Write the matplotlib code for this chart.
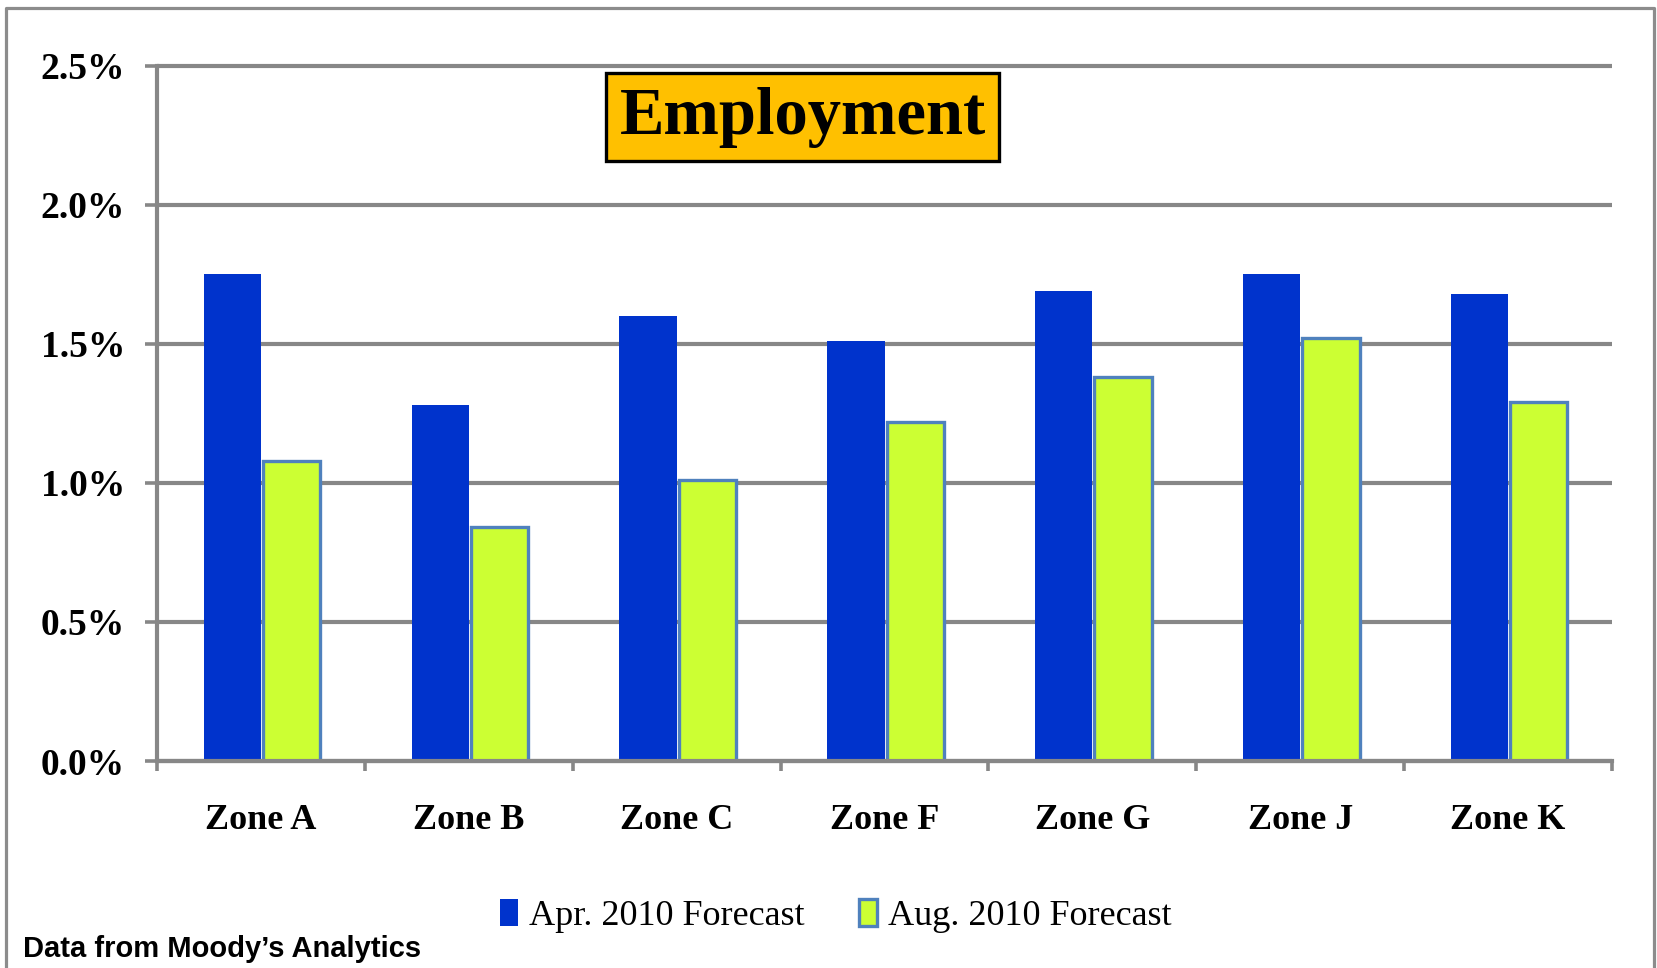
import matplotlib
matplotlib.use('Agg')
import matplotlib.pyplot as plt
import numpy as np
from matplotlib.patches import Patch
from matplotlib.lines import Line2D

# data (percent)
zones = ['Zone A', 'Zone B', 'Zone C', 'Zone F', 'Zone G', 'Zone J', 'Zone K']
apr_2010 = [1.75, 1.28, 1.60, 1.51, 1.69, 1.75, 1.68]
aug_2010 = [1.08, 0.84, 1.01, 1.22, 1.38, 1.52, 1.29]
series_names = ['Apr. 2010 Forecast', 'Aug. 2010 Forecast']
y_ticks = [0.0, 0.5, 1.0, 1.5, 2.0, 2.5]

BLUE = '#0033cc'
GREEN = '#ccff33'
EDGE = '#4f81bd'
GRAY = '#878787'
SERIF = 'Liberation Serif'

fig = plt.figure(figsize=(16.57, 9.68), dpi=100)
ax = fig.add_axes([0.0947, 0.2138, 0.9729 - 0.0947, 0.9321 - 0.2138])

x = np.arange(len(zones))
w = 0.275
ax.bar(x - w / 2, apr_2010, w, color=BLUE, edgecolor='none', zorder=3)
ax.bar(x + w / 2 + 0.01, aug_2010, w, color=GREEN, edgecolor=EDGE, linewidth=2.4, zorder=3)

ax.set_xlim(-0.5, len(zones) - 0.5)
ax.set_ylim(0, 2.5)

ax.set_yticks(y_ticks)
ax.set_yticklabels(['%.1f%%' % v for v in y_ticks], fontfamily=SERIF, fontweight='bold', fontsize=27)
ax.yaxis.grid(True, color=GRAY, linewidth=3.0, zorder=0)
# keep the top (2.5%) gridline at full thickness
for gl in ax.get_ygridlines():
    gl.set_clip_on(False)
    gl.set_solid_capstyle('butt')
ax.tick_params(axis='y', direction='out', length=9, width=2.6, color=GRAY, pad=14)

ax.set_xticks(x)
ax.set_xticklabels(zones, fontfamily=SERIF, fontweight='bold', fontsize=26)
ax.set_xticks(np.arange(-0.5, len(zones), 1.0), minor=True)
ax.tick_params(axis='x', which='major', length=0, pad=31)
ax.tick_params(axis='x', which='minor', direction='out', length=7, width=2.6, color=GRAY)

for s in ['top', 'right']:
    ax.spines[s].set_visible(False)
for s in ['left', 'bottom']:
    ax.spines[s].set_color(GRAY)
    ax.spines[s].set_linewidth(3.0)
    ax.spines[s].set_zorder(4)

# title box
ax.text(0.4845, 0.879, 'Employment', transform=fig.transFigure, ha='center', va='center',
        fontfamily=SERIF, fontweight='bold', fontsize=48,
        bbox=dict(boxstyle='square,pad=0.2', facecolor='#ffc000', edgecolor='black', linewidth=2.4))

# legend
handles = [Patch(facecolor=BLUE, edgecolor='none'),
           Patch(facecolor=GREEN, edgecolor=EDGE, linewidth=2.4)]
fig.legend(handles, series_names, loc='center', bbox_to_anchor=(0.5045, 0.0537), ncol=2,
           frameon=False, prop={'family': SERIF, 'size': 26},
           handlelength=0.5, handleheight=0.8, handletextpad=0.3, columnspacing=1.5)

fig.text(0.014, 0.0196, 'Data from Moody\u2019s Analytics', ha='left', va='center',
         fontfamily='Liberation Sans', fontweight='bold', fontsize=21)

# outer frame (open at bottom)
fx = [6 / 1657, 6 / 1657, 1654 / 1657, 1654 / 1657]
fy = [-0.01, 1 - 8 / 968, 1 - 8 / 968, -0.01]
fig.add_artist(Line2D(fx, fy, transform=fig.transFigure, color='#8c8c8c', linewidth=2.3))

fig.savefig('out.png', dpi=100)
